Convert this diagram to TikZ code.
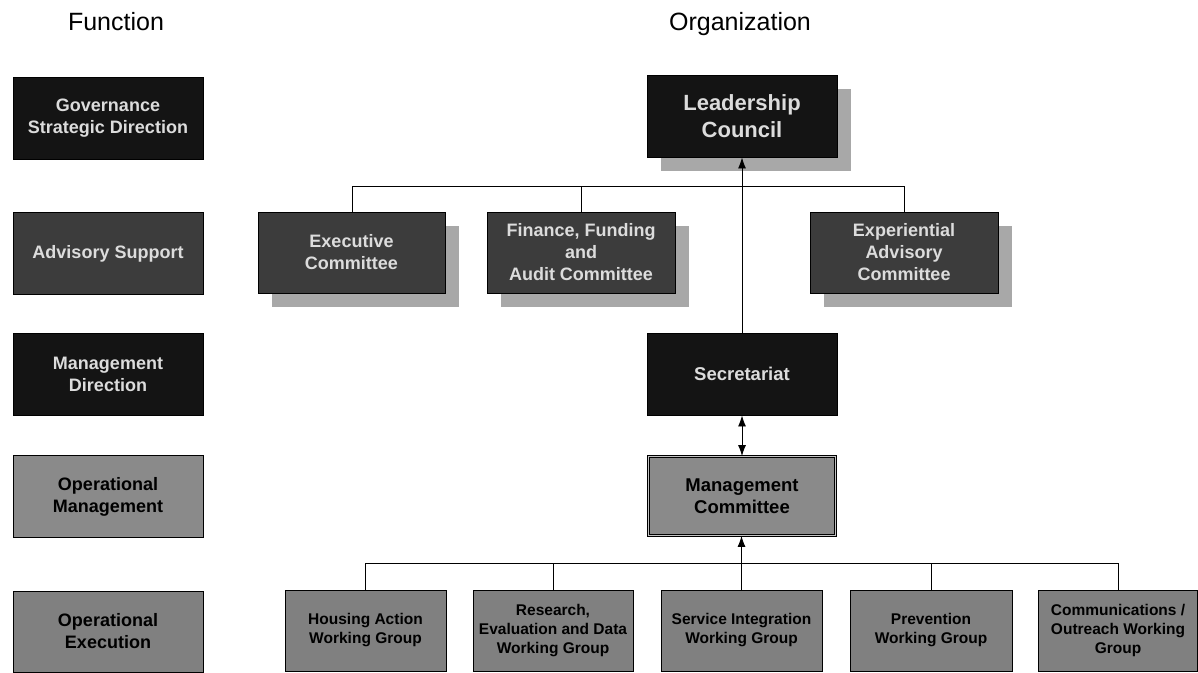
\documentclass[tikz,border=0pt]{standalone}
\usepackage{fontspec}
\setmainfont{Liberation Sans}
\usetikzlibrary{arrows.meta,shadows}
\definecolor{darkbox}{HTML}{141414}
\definecolor{advbox}{HTML}{3C3C3C}
\definecolor{midbox}{HTML}{8A8A8A}
\definecolor{grpbox}{HTML}{808080}
\definecolor{shadowc}{HTML}{A8A8A8}
\definecolor{lighttext}{HTML}{DCDCDC}
\definecolor{gapc}{HTML}{C4C4C4}
\begin{document}
\begin{tikzpicture}[x=1pt,y=-1pt,
  every node/.style={inner sep=0pt, align=center},
  header/.style={font=\fontsize{25}{30}\selectfont, anchor=base},
  basebox/.style={draw=black, line width=0.9pt, font=\bfseries},
  funcbox/.style={basebox, minimum width=190, minimum height=82, font=\fontsize{18}{22}\selectfont\bfseries},
  darkf/.style={fill=darkbox, text=lighttext},
  advf/.style={fill=advbox, text=lighttext},
  gmf/.style={fill=midbox, text=black},
  gef/.style={fill=grpbox, text=black},
  shad/.style={drop shadow={shadow xshift=14pt, shadow yshift=-14pt, fill=shadowc, opacity=1}},
  leadbox/.style={basebox, darkf, shad, minimum width=190, minimum height=82, font=\fontsize{22}{27}\selectfont\bfseries},
  combox/.style={basebox, advf, shad, minimum height=81, font=\fontsize{18}{22}\selectfont\bfseries},
  secbox/.style={basebox, darkf, minimum width=190, minimum height=82, font=\fontsize{18.5}{22}\selectfont\bfseries},
  mgbox/.style={draw=black, double=gapc, double distance=1.8pt, line width=0.8pt, fill=midbox, text=black, minimum width=187, minimum height=79, font=\fontsize{18.5}{22}\selectfont\bfseries},
  grpnode/.style={basebox, gef, minimum height=81, font=\fontsize{15.5}{19}\selectfont\bfseries},
  conn/.style={draw=black, line width=0.9pt},
  arr/.style={conn, -{Latex[length=11pt,width=8pt]}},
  darr/.style={conn, {Latex[length=11pt,width=8pt]}-{Latex[length=11pt,width=8pt]}}
]
\useasboundingbox (0,0) rectangle (1198,672);

% headers
\node[header] (hfunc) at (116,30) {Function};
\node[header] (horg) at (740,30) {Organization};

% function column
\node[funcbox, darkf] (gov) at (108,118) {Governance\\Strategic Direction};
\node[funcbox, advf] (adv) at (108,253.5) {Advisory Support};
\node[funcbox, darkf] (mdir) at (108,374.5) {Management\\Direction};
\node[funcbox, gmf] (opm) at (108,496.5) {Operational\\Management};
\node[funcbox, gef, minimum height=81] (ope) at (108,631.5) {Operational\\Execution};

% organization
\node[leadbox] (lead) at (742,116) {Leadership\\Council};
\node[combox, minimum width=187] (exec) at (351.5,252.5) {Executive\\Committee};
\node[combox, minimum width=188] (fin) at (581,252.5) {Finance, Funding\\and\\Audit Committee};
\node[combox, minimum width=188] (exp) at (904,252.5) {Experiential\\Advisory\\Committee};
\node[secbox] (sec) at (742,374) {Secretariat};
\node[mgbox] (mgmt) at (742,496) {Management\\Committee};

\node[grpnode, minimum width=161] (hous) at (365.5,630.5) {Housing Action\\Working Group};
\node[grpnode, minimum width=160] (res) at (553,630.5) {Research,\\Evaluation and Data\\Working Group};
\node[grpnode, minimum width=161] (serv) at (741.5,630.5) {Service Integration\\Working Group};
\node[grpnode, minimum width=162] (prev) at (931,630.5) {Prevention\\Working Group};
\node[grpnode, minimum width=159] (comm) at (1118,630.5) {Communications /\\Outreach Working\\Group};

% connectors: advisory level
\coordinate (ca) at (352,186);
\coordinate (cb) at (904,186);
\draw[conn] (exec.north -| ca) -- (ca) -- (cb) -- (exp.north -| cb);
\draw[conn] (fin.north) -- (fin.north |- ca);
\draw[arr] (sec.north) -- (lead.south);

% secretariat <-> management committee
\draw[darr] (sec.south) -- (mgmt.south |- mgmt.north);

% working groups
\coordinate (wa) at (365.5,563);
\coordinate (wb) at (1118,563);
\draw[conn] (hous.north) -- (wa) -- (wb) -- (comm.north);
\draw[conn] (res.north) -- (res.north |- wa);
\draw[conn] (prev.north) -- (prev.north |- wa);
\draw[arr] (serv.north) -- (serv.north |- mgmt.south);
\end{tikzpicture}
\end{document}
